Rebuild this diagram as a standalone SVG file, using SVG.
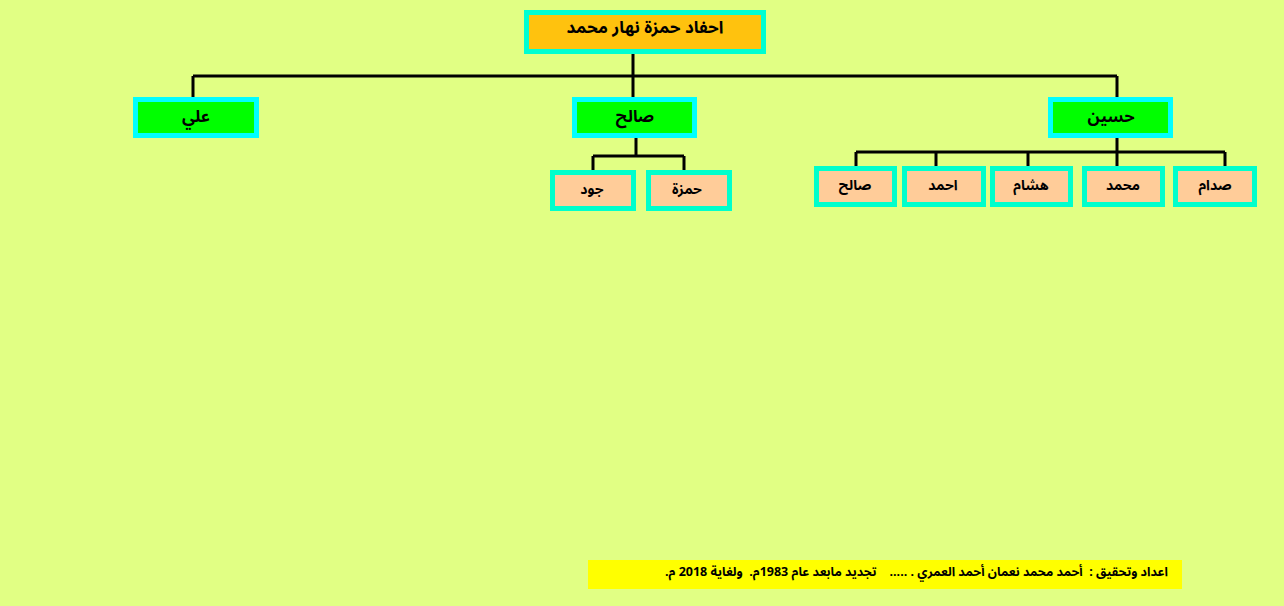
<svg xmlns="http://www.w3.org/2000/svg" width="1284" height="606" viewBox="0 0 1284 606">
<style>
.bg{fill:#E1FF84}
.root{fill:#FFC20E;stroke:#00FFD2;stroke-width:5}
.mid{fill:#00FF00;stroke:#00FFFF;stroke-width:5}
.leaf{fill:#FFCC99;stroke:#00FFCC;stroke-width:5}
.ln{fill:none;stroke:#000;stroke-width:3}
text{font-family:"Noto Sans Arabic","Noto Naskh Arabic","DejaVu Sans",sans-serif;font-weight:bold;fill:#000;text-anchor:middle;direction:rtl;unicode-bidi:embed}
.t1{font-size:17px}
.t2{font-size:16.5px}
.t3{font-size:14px}
.ft{font-size:12.5px;text-anchor:start}
</style>
<rect class="bg" x="0" y="0" width="1284" height="606"/>
<g id="connectors">
<path class="ln" d="M633 54V76M193 76H1117M193 76V99M633 76V99M1117 76V99"/>
<path class="ln" d="M636 138V156M593 156H684M593 156V172M684 156V172"/>
<path class="ln" d="M1117 138V152M856 152H1225M856 152V168M936 152V168M1028 152V168M1117 152V168M1225 152V168"/>
</g>
<g id="root">
<rect class="root" x="526.5" y="12.5" width="237" height="39"/>
<text class="t1" x="645" y="33">احفاد حمزة نهار محمد</text>
</g>
<g id="ali">
<rect class="mid" x="135.5" y="99.5" width="121" height="36"/>
<text class="t2" x="196" y="122">علي</text>
</g>
<g id="salih">
<rect class="mid" x="574.5" y="99.5" width="120" height="36"/>
<text class="t2" x="635" y="122">صالح</text>
</g>
<g id="husain">
<rect class="mid" x="1050.5" y="99.5" width="120" height="36"/>
<text class="t2" x="1111" y="122">حسين</text>
</g>
<g id="jood">
<rect class="leaf" x="552.5" y="172.5" width="81" height="36"/>
<text class="t3" x="592" y="194">جود</text>
</g>
<g id="hamza">
<rect class="leaf" x="648.5" y="172.5" width="81" height="36"/>
<text class="t3" x="687" y="194">حمزة</text>
</g>
<g id="salih2">
<rect class="leaf" x="816.5" y="168.5" width="78" height="36"/>
<text class="t3" x="855" y="190">صالح</text>
</g>
<g id="ahmad">
<rect class="leaf" x="904.5" y="168.5" width="79" height="36"/>
<text class="t3" x="943" y="190">احمد</text>
</g>
<g id="hisham">
<rect class="leaf" x="992.5" y="168.5" width="78" height="36"/>
<text class="t3" x="1031" y="190">هشام</text>
</g>
<g id="muhammad">
<rect class="leaf" x="1084.5" y="168.5" width="78" height="36"/>
<text class="t3" x="1123" y="190">محمد</text>
</g>
<g id="saddam">
<rect class="leaf" x="1175.5" y="168.5" width="79" height="36"/>
<text class="t3" x="1215" y="190">صدام</text>
</g>
<g id="footer">
<rect x="588" y="560" width="594" height="29" fill="#FFFF00"/>
<text class="ft" x="1168" y="576" xml:space="preserve">اعداد وتحقيق :  أحمد محمد نعمان أحمد العمري . .....    تجديد مابعد عام 1983م.  ولغاية 2018 م.</text>
</g>
</svg>
